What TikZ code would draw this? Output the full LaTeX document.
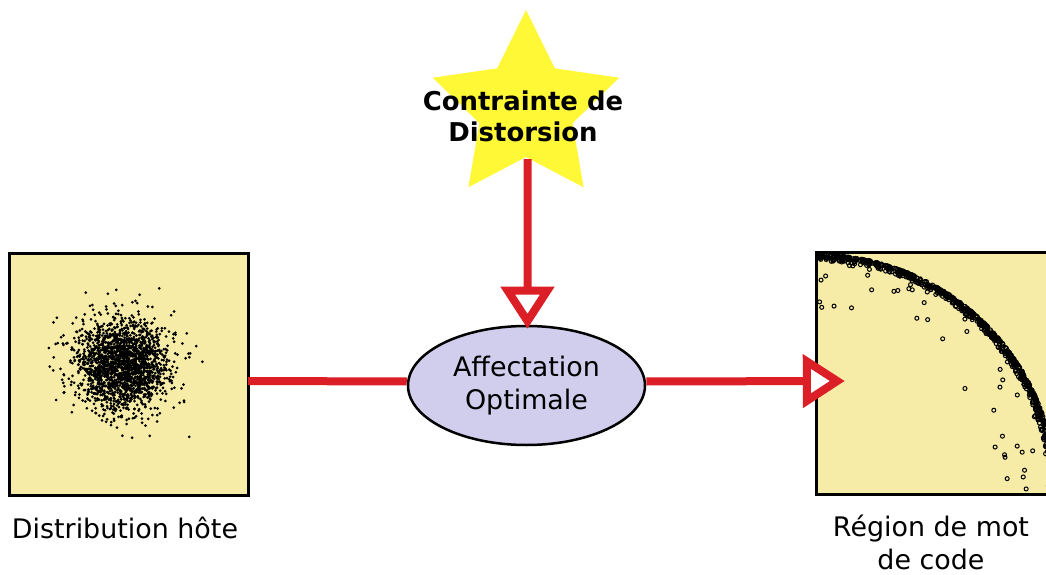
\documentclass[tikz,border=0pt]{standalone}
\usepackage{fontspec}
\setmainfont{DejaVu Sans}
\usetikzlibrary{shapes.geometric,arrows.meta}
\definecolor{boxfill}{HTML}{F6ECA7}
\definecolor{lav}{HTML}{D1CDED}
\definecolor{staryel}{HTML}{FFF837}
\definecolor{conred}{HTML}{DC1F26}
\begin{document}
\begin{tikzpicture}[x=1bp,y=-1bp,
  panel/.style={rectangle,minimum width=238bp,minimum height=241bp,inner sep=0pt,fill=boxfill},
  frame/.style={draw=black,line width=3bp},
  conn/.style={draw=conred,line width=8bp},
  openarrow/.style={-{Triangle[length=42bp,width=52bp,fill=white]}},
  lbl/.style={font=\fontsize{27}{33}\selectfont,align=center,inner sep=0pt},
  dot/.style={fill=black},
  ring/.style={draw=black,line width=1bp}]
\clip (0,0) rectangle (1046,575);
\fill[white] (0,0) rectangle (1046,575);
% panels
\node[panel] (lbox) at (129,374.5) {};
\node[panel] (rbox) at (936,373.5) {};
% left scatter
\begin{scope}
\clip (lbox.south west) rectangle (lbox.north east);
\pgfmathsetseed{7}
\foreach \i in {1,...,2000}{
  \pgfmathsetmacro\u{max(rnd,0.0001)}
  \pgfmathsetmacro\v{rnd}
  \pgfmathsetmacro\rr{23*sqrt(-2*ln(\u))}
  \pgfmathsetmacro\px{122+\rr*cos(360*\v)}
  \pgfmathsetmacro\py{365+\rr*sin(360*\v)}
  \fill[dot] (\px,\py) circle[radius=1.5];
}
\end{scope}
% right scatter
\begin{scope}
\clip (rbox.south west) rectangle (rbox.north east);
\pgfmathsetseed{11}
\foreach \i in {1,...,800}{
  \pgfmathsetmacro\a{rnd*90}
  \pgfmathsetmacro\s{rnd}
  \pgfmathsetmacro\t{rnd}
  \pgfmathsetmacro\r{\s<0.88 ? 239-6*\t^2 : 238*(1-0.24*\t^2.2)}
  \pgfmathsetmacro\px{817+\r*cos(\a)}
  \pgfmathsetmacro\py{494-\r*sin(\a)}
  \draw[ring] (\px,\py) circle[radius=2];
}
\end{scope}
\draw[frame] (lbox.south west) rectangle (lbox.north east);
\draw[frame] (rbox.south west) rectangle (rbox.north east);
% labels
\node[lbl] (llab) at (125,528) {Distribution hôte};
\node[lbl] (rlab) at (931,542) {Région de mot\\de code};
% star
\node[star,star points=5,star point ratio=2,minimum size=196bp,inner sep=0pt,fill=staryel] (star) at (526,108) {};
\node[inner sep=0pt,align=center,font=\fontsize{26}{31}\selectfont\bfseries] (stxt) at (523,116) {Contrainte de\\Distorsion};
% ellipse
\node[ellipse,minimum width=237bp,minimum height=119bp,inner sep=0pt,draw=black,line width=2.5bp,fill=lav,lbl] (ell) at (526.5,385.5) {Affectation\\Optimale};
% connectors
\coordinate (rtip) at ([xshift=28bp,yshift=-7.5bp]rbox.west);
\draw[conn] ([yshift=-6.5bp]lbox.east) -- ([yshift=4bp]ell.west);
\draw[conn,openarrow] ([yshift=4bp]ell.east) -- (rtip);
\draw[conn,openarrow] ([xshift=1.5bp,yshift=-2bp]star.south) -- ([xshift=1bp,yshift=-4bp]ell.north);
\end{tikzpicture}
\end{document}
